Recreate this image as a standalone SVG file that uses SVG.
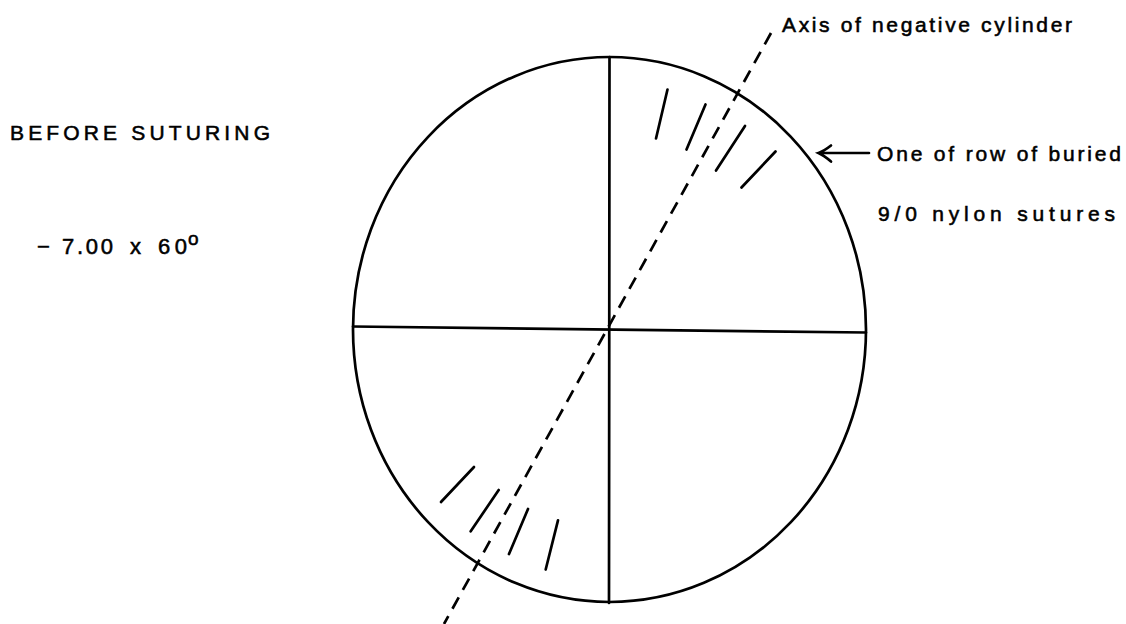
<svg xmlns="http://www.w3.org/2000/svg" width="1126" height="624" viewBox="0 0 1126 624">
<style>
.ln{stroke:#000;stroke-width:2.7;fill:none;stroke-linecap:round}
.ds{stroke:#000;stroke-width:2.7;fill:none;stroke-dasharray:13 8.5}
.tx{font-family:"Liberation Sans",Arial,Helvetica,sans-serif;font-size:21px;fill:#000;stroke:#000;stroke-width:0.55}
</style>
<rect x="0" y="0" width="1126" height="624" fill="#fff"/>
<g id="cornea">
<ellipse class="ln" cx="609.5" cy="329.5" rx="256.5" ry="272.5"/>
<line class="ln" x1="609.5" y1="57" x2="609" y2="603"/>
<line class="ln" x1="353" y1="326.5" x2="866" y2="332.5"/>
</g>
<g id="axis">
<line class="ds" x1="771" y1="33" x2="444" y2="624"/>
</g>
<g id="sutures-upper">
<line class="ln" x1="667.5" y1="89.5" x2="656" y2="138.5"/>
<line class="ln" x1="705.5" y1="104.5" x2="686.5" y2="149.5"/>
<line class="ln" x1="745" y1="126" x2="716" y2="170.5"/>
<line class="ln" x1="775.5" y1="151.5" x2="741.5" y2="187.5"/>
</g>
<g id="sutures-lower">
<line class="ln" x1="474" y1="467" x2="441" y2="502"/>
<line class="ln" x1="498.7" y1="490" x2="470.7" y2="531.3"/>
<line class="ln" x1="528" y1="509" x2="509" y2="554"/>
<line class="ln" x1="558" y1="520.3" x2="545.7" y2="569.5"/>
</g>
<g id="connectors">
<path class="ln" d="M869,153 L819,153 M831,145.5 Q824,151 818.5,153 Q824,155.5 831,161.5"/>
</g>
<g id="label-before">
<text class="tx" x="10" y="140" textLength="260" lengthAdjust="spacing">BEFORE SUTURING</text>
</g>
<g id="label-power">
<text class="tx" style="font-size:22px" y="254"><tspan x="37">−</tspan><tspan x="62" textLength="51" lengthAdjust="spacing">7.00</tspan><tspan x="130">x</tspan><tspan x="158" textLength="29" lengthAdjust="spacing">60</tspan><tspan x="188" y="245" style="font-size:19px">o</tspan></text>
</g>
<g id="label-axis">
<text class="tx" x="782" y="32" textLength="290" lengthAdjust="spacing">Axis of negative cylinder</text>
</g>
<g id="label-sutures">
<text class="tx" x="877" y="161" textLength="244" lengthAdjust="spacing">One of row of buried</text>
<text class="tx" x="878" y="221" textLength="237" lengthAdjust="spacing">9/0 nylon sutures</text>
</g>
</svg>
